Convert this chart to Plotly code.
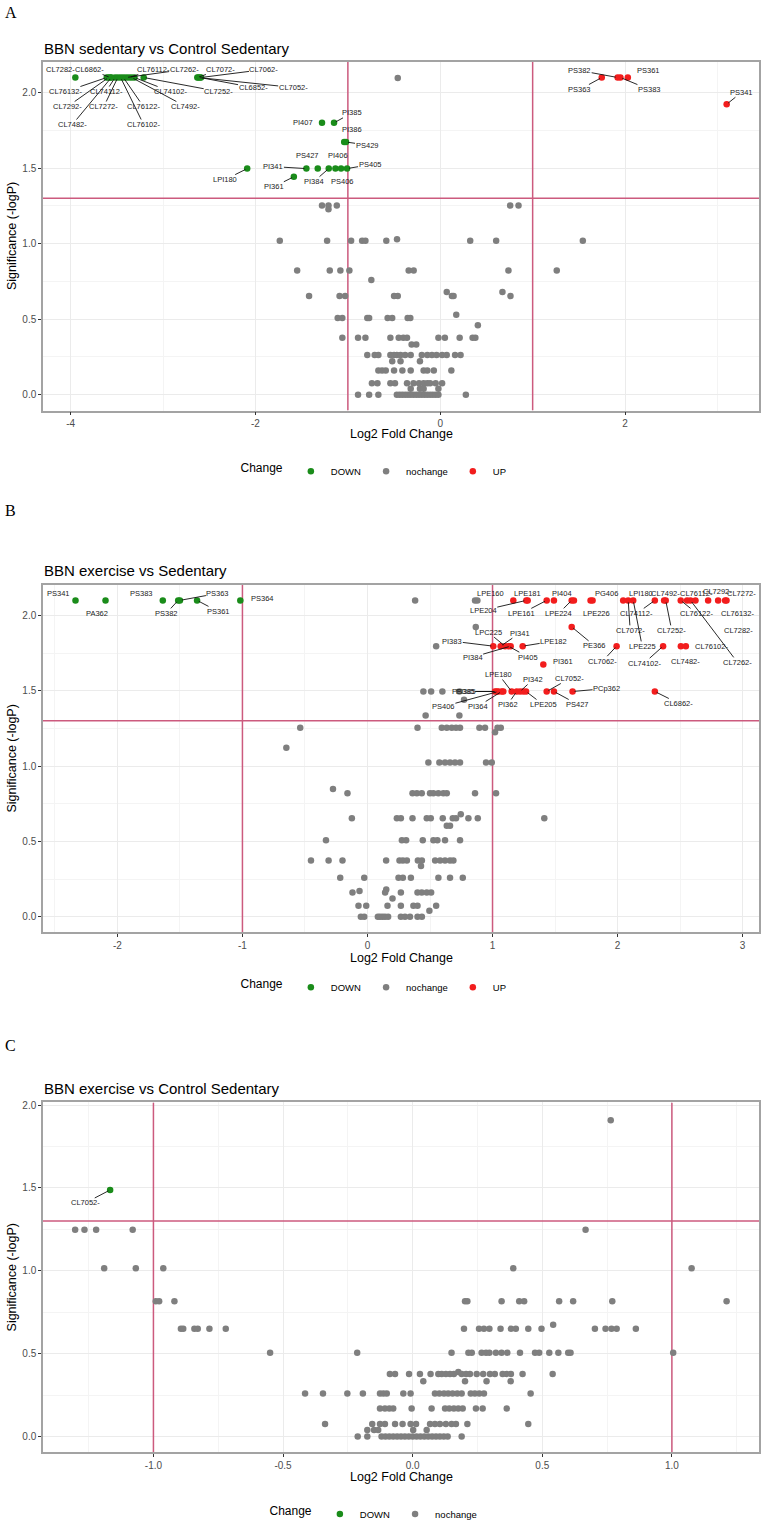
import plotly.graph_objects as go

# ---------------- DATA ----------------
FC_CUT = 1.0
P_CUT = 1.301  # -log10(0.05)

# Panel A: BBN sedentary vs Control Sedentary
A_levels = [2.096, 1.252, 1.228, 1.02, 1.03, 0.822, 0.76, 0.653, 0.68, 0.508, 0.53, 0.46,
            0.377, 0.333, 0.263, 0.221, 0.16, 0.076, 0.04, 0.0]
A_level_x = [
    [-0.46],
    [-1.28, -1.21, -1.12, 0.757, 0.847],
    [-1.21],
    [-1.737, -1.225, -0.965, -0.846, -0.81, -0.584, 0.324, 0.605, 1.543],
    [-0.468],
    [-1.549, -1.196, -1.081, -0.984, -0.342, -0.288, 0.738, 1.261],
    [-0.746],
    [-1.42, -1.09, -1.03, -0.50, -0.46, 0.126, 0.144, 0.76],
    [0.07, 0.673],
    [-1.11, -1.06, -0.79, -0.77, -0.57, -0.52, -0.353, -0.324],
    [0.173],
    [0.407],
    [-1.06, -0.89, -0.81, -0.54, -0.45, -0.40, -0.36, -0.02, 0.05, 0.21, 0.35, 0.38],
    [-0.31, -0.26],
    [-0.79, -0.71, -0.67, -0.54, -0.50, -0.47, -0.43, -0.38, -0.32, -0.20, -0.14, -0.09,
     -0.04, 0.02, 0.07, 0.16, 0.22],
    [-0.52, -0.43, -0.22],
    [-0.67, -0.63, -0.59, -0.50, -0.41, -0.32, -0.18, -0.14, -0.07, 0.12],
    [-0.74, -0.68, -0.54, -0.49, -0.36, -0.29, -0.23, -0.18, -0.14, -0.11, -0.05, 0.02],
    [-0.32, -0.22, -0.18, -0.02],
    [-0.89, -0.77, -0.67, -0.47, -0.44, -0.41, -0.38, -0.35, -0.32, -0.29, -0.26, -0.23,
     -0.20, -0.17, -0.14, -0.11, -0.08, -0.05, -0.02, 0.277],
]
A_sig_name = ["CL7282-", "CL76132-", "CL7292-", "CL6862-", "CL7482-", "CL74112-", "CL7272-",
              "CL76102-", "CL76122-", "CL7262-", "CL76112-", "CL7492-", "CL74102-", "CL7252-",
              "CL7072-", "CL7052-", "CL6852-", "CL7062-",
              "PI407", "PI385", "PI386", "PS429", "LPI180", "PI361", "PI341", "PS427", "PI384",
              "PS406", "PI406", "PS405",
              "PS363", "PS382", "PS383", "PS361", "PS341"]
A_sig_x = [-3.95, -3.61, -3.59, -3.57, -3.56, -3.52, -3.49, -3.46, -3.43, -3.40, -3.37, -3.34,
           -3.31, -3.21, -2.63, -2.62, -2.60, -2.59,
           -1.28, -1.15, -1.04, -1.02, -2.09, -1.585, -1.449, -1.326, -1.207, -1.135, -1.074, -1.009,
           1.748, 1.92, 1.95, 2.03, 3.10]
A_sig_y = [2.1] * 18 + [1.80, 1.80, 1.673, 1.673, 1.497, 1.443, 1.497, 1.497, 1.497, 1.497,
                        1.497, 1.497, 2.1, 2.1, 2.1, 2.1, 1.923]

# Panel B: BBN exercise vs Sedentary
B_levels = [2.1, 1.924, 1.796, 1.495, 1.44, 1.335, 1.254, 1.225, 1.122, 1.023, 0.847, 0.819,
            0.68, 0.654, 0.603, 0.507, 0.373, 0.336, 0.259, 0.18, 0.17, 0.16, 0.12, 0.072, 0.04, 0.0]
B_level_x = [
    [0.381, 0.86, 0.879],
    [0.866],
    [0.549],
    [0.447, 0.509, 0.599, 0.735],
    [0.772],
    [0.465, 0.735],
    [-0.538, 0.40, 0.594, 0.634, 0.674, 0.708, 0.74, 0.895, 0.94, 1.04, 1.066],
    [1.02],
    [-0.649],
    [0.487, 0.575, 0.62, 0.66, 0.70, 0.74, 0.948, 0.994],
    [-0.276],
    [-0.16, 0.36, 0.395, 0.434, 0.50, 0.527, 0.567, 0.607, 0.634, 0.86, 1.028],
    [0.746],
    [-0.125, 0.235, 0.267, 0.36, 0.474, 0.506, 0.602, 0.682, 0.708, 0.807, 0.882, 1.414],
    [0.634, 0.66],
    [-0.332, 0.275, 0.309, 0.442, 0.527, 0.559, 0.62, 0.74],
    [-0.452, -0.311, -0.2, 0.149, 0.256, 0.283, 0.315, 0.403, 0.435, 0.541, 0.581, 0.62, 0.66, 0.687],
    [0.428],
    [-0.218, -0.026, 0.248, 0.283, 0.347, 0.567, 0.66, 0.762],
    [0.15],
    [-0.064],
    [-0.12, 0.141, 0.267, 0.40, 0.434, 0.474, 0.509],
    [0.2],
    [-0.072, -0.01, 0.16, 0.267, 0.367, 0.40, 0.549],
    [0.495],
    [-0.053, -0.026, 0.083, 0.10, 0.12, 0.14, 0.165, 0.267, 0.30, 0.34, 0.40, 0.435],
]
B_sig_name = ["PS341", "PA362", "PS383", "PS382", "PS363", "PS361", "PS364",
              "LPE160", "LPE204", "LPE181", "LPE161", "PI404", "LPE224", "", "PG406", "LPE226",
              "LPI180", "CL7072-", "LPE225", "CL74112-", "CL7492-", "CL7252-", "CL76122-",
              "CL76112-", "CL7262-", "", "CL7292-", "CL7282-", "CL76132-", "CL7272-",
              "PE366",
              "PI383", "PI341", "LPC225", "PI405", "PI384", "LPE182", "CL7062-", "CL74102-",
              "CL7482-", "CL76102-",
              "PI361",
              "PS385", "PI385", "PS406", "PI364", "", "LPE180", "PI362", "PI342", "", "LPE205",
              "CL7052-", "PS427", "PCp362", "CL6862-"]
B_sig_x = [-2.335, -2.095, -1.637, -1.514, -1.50, -1.363, -1.017,
           1.166, 1.27, 1.281, 1.433, 1.491, 1.633, 1.651, 1.784, 1.80,
           2.045, 2.085, 2.125, 2.298, 2.372, 2.385, 2.505,
           2.556, 2.583, 2.623, 2.724, 2.804, 2.86, 2.871,
           1.633,
           1.006, 1.065, 1.10, 1.127, 1.145, 1.241, 1.992, 2.364, 2.506, 2.546,
           1.406,
           1.02, 1.033, 1.047, 1.073, 1.086, 1.153, 1.193, 1.22, 1.246, 1.268,
           1.433, 1.491, 1.64, 2.298]
B_sig_y = [2.1] * 7 + [2.1] * 23 + [1.924] + [1.796] * 10 + [1.675] + [1.495] * 14

# Panel C: BBN exercise vs Control Sedentary
C_levels = [1.909, 1.248, 1.015, 0.817, 0.675, 0.65, 0.506, 0.39, 0.378, 0.334, 0.26, 0.169,
            0.075, 0.039, 0.0]
C_level_x = [
    [0.764],
    [-1.302, -1.266, -1.221, -1.08, 0.667],
    [-1.19, -1.068, -0.962, 0.388, 1.076],
    [-0.991, -0.978, -0.919, 0.202, 0.211, 0.343, 0.411, 0.43, 0.565, 0.619, 0.77, 1.211],
    [0.542],
    [-0.894, -0.885, -0.842, -0.829, -0.784, -0.721, 0.198, 0.256, 0.275, 0.296, 0.339, 0.379,
     0.398, 0.446, 0.497, 0.703, 0.744, 0.767, 0.787, 0.861],
    [-0.55, -0.214, 0.15, 0.215, 0.228, 0.266, 0.283, 0.296, 0.321, 0.343, 0.365, 0.414, 0.472,
     0.488, 0.527, 0.562, 0.6, 0.609, 1.005],
    [0.176],
    [-0.088, -0.068, -0.014, 0.028, 0.069, 0.099, 0.112, 0.128, 0.144, 0.159, 0.189, 0.206, 0.221,
     0.247, 0.272, 0.298, 0.317, 0.347, 0.363, 0.379, 0.424, 0.54],
    [0.041, 0.202, 0.285, 0.378],
    [-0.415, -0.346, -0.252, -0.192, -0.126, -0.113, -0.1, -0.036, -0.008, 0.086, 0.103, 0.121,
     0.137, 0.154, 0.172, 0.189, 0.224, 0.24, 0.257, 0.275, 0.455],
    [-0.126, -0.107, -0.09, -0.075, -0.004, 0.073, 0.125, 0.141, 0.159, 0.176, 0.193, 0.244, 0.27, 0.363],
    [-0.338, -0.156, -0.126, -0.107, -0.068, -0.039, -0.008, 0.013, 0.067, 0.086, 0.105, 0.128,
     0.15, 0.167, 0.211, 0.446],
    [-0.175, -0.149, -0.133, 0.002, 0.054],
    [-0.212, -0.175, -0.12, -0.105, -0.09, -0.075, -0.06, -0.045, -0.03, -0.015, 0.0, 0.015, 0.03,
     0.045, 0.06, 0.075, 0.09, 0.105, 0.12, 0.135, 0.189],
]
C_sig_name = ["CL7052-"]
C_sig_x = [-1.167]
C_sig_y = [1.488]

# Tick labels
A_xtick_vals = [-4, -2, 0, 2]
A_xtick_text = ["-4", "-2", "0", "2"]
B_xtick_vals = [-2, -1, 0, 1, 2, 3]
B_xtick_text = ["-2", "-1", "0", "1", "2", "3"]
C_xtick_vals = [-1.0, -0.5, 0.0, 0.5, 1.0]
C_xtick_text = ["-1.0", "-0.5", "0.0", "0.5", "1.0"]
Y_tick_vals = [0.0, 0.5, 1.0, 1.5, 2.0]
Y_tick_text = ["0.0", "0.5", "1.0", "1.5", "2.0"]

# ---------------- LABEL LAYOUT (pixel offsets of repel labels) ----------------
A_lab_dx = [-15, -41, -41, -21, -39, -9, -14, 23, 20, 58, 25, 54, 36, 75, 23, 95, 53, 63,
            -19, 18, 8, 21, -22, -20, -33, -10, -15, 7, -3, 23,
            -22, -38, 29, 21, 15]
A_lab_dy = [-8, 14, 29, -8, 47, 14, 29, 47, 29, -8, -8, 29, 14, 14, -8, 10, 10, -8,
            0, -10, -13, 3, 11, 10, -2, -13, 13, 13, -13, -4,
            12, -7, 12, -7, -12]
A_lab_seg = [0, 1, 1, 1, 1, 1, 1, 1, 1, 1, 1, 1, 1, 1, 1, 1, 1, 1,
             0, 1, 0, 1, 1, 1, 1, 0, 1, 0, 0, 1,
             1, 1, 1, 0, 1]
B_lab_dx = [-17, -9, -21, -12, 38, 21, 22,
            -23, -43, 0, -25, 8, -13, 0, 16, 4,
            18, 2, 9, -18, 1, 6, 16,
            9, 47, 0, 9, 20, 12, 15,
            23,
            -41, 19, -17, 20, -38, 31, -14, -19, 5, 26,
            20,
            -32, -31, -55, -24, 0, -13, -9, 13, 0, 17, 23, 24, 34, 24]
B_lab_dy = [-7, 13, -7, 13, -7, 11, -2,
            -7, 10, -7, 13, -7, 13, 0, -7, 13,
            -7, 30, 46, 13, -7, 30, 13,
            -7, 62, 0, -9, 30, 13, -7,
            19,
            -5, -13, -14, 11, 11, -5, 15, 17, 15, 0,
            -3,
            0, 0, 15, 15, 0, -17, 13, -12, 0, 13, -13, 13, -3, 12]
B_lab_seg = [0, 0, 0, 1, 1, 1, 0,
             0, 1, 0, 1, 0, 1, 0, 0, 0,
             0, 1, 1, 1, 0, 1, 1,
             0, 1, 0, 0, 1, 0, 0,
             1,
             1, 1, 1, 1, 1, 1, 1, 1, 1, 0,
             0,
             1, 1, 1, 1, 0, 1, 1, 1, 0, 1, 1, 1, 1, 1]
C_lab_dx = [-25]
C_lab_dy = [13]
C_lab_seg = [1]

# ---------------- STYLE ----------------
W, H = 761, 1529
FONT = "Liberation Sans, Arial, Helvetica, sans-serif"
COL = {"DOWN": "#1A8C1A", "nochange": "#7F7F7F", "UP": "#F21D1D"}
RANK = {"DOWN": 1, "nochange": 2, "UP": 3}
LINE_COL = "#CC5A7E"


def fy(p):
    return 1 - p / H


def classify(x, y):
    if y > P_CUT and x < -FC_CUT:
        return "DOWN"
    if y > P_CUT and x > FC_CUT:
        return "UP"
    return "nochange"


panels = [
    dict(sfx="", lg="legend", levels=A_levels, lx=A_level_x, sn=A_sig_name, sx=A_sig_x, sy=A_sig_y,
         dx=A_lab_dx, dy=A_lab_dy, seg=A_lab_seg, top=59, bot=410, xr=[-4.30, 3.45], yr=[-0.105, 2.205],
         xtv=A_xtick_vals, xtt=A_xtick_text, xminor=[-3, -1, 1, 3],
         title="BBN sedentary vs Control Sedentary", ty=46, letter="A", ly=10, xty=434, legy=471),
    dict(sfx="2", lg="legend2", levels=B_levels, lx=B_level_x, sn=B_sig_name, sx=B_sig_x, sy=B_sig_y,
         dx=B_lab_dx, dy=B_lab_dy, seg=B_lab_seg, top=585, bot=935, xr=[-2.595, 3.131], yr=[-0.105, 2.205],
         xtv=B_xtick_vals, xtt=B_xtick_text, xminor=[-2.5, -1.5, -0.5, 0.5, 1.5, 2.5],
         title="BBN exercise vs Sedentary", ty=571, letter="B", ly=511, xty=961, legy=990),
    dict(sfx="3", lg="legend3", levels=C_levels, lx=C_level_x, sn=C_sig_name, sx=C_sig_x, sy=C_sig_y,
         dx=C_lab_dx, dy=C_lab_dy, seg=C_lab_seg, top=1106, bot=1458, xr=[-1.426, 1.336], yr=[-0.096, 2.016],
         xtv=C_xtick_vals, xtt=C_xtick_text, xminor=[-1.25, -0.75, -0.25, 0.25, 0.75, 1.25],
         title="BBN exercise vs Control Sedentary", ty=1092, letter="C", ly=1049, xty=1483, legy=1520),
]

fig = go.Figure()
annotations = []
layout = {}

for p in panels:
    xa, ya = "x" + p["sfx"], "y" + p["sfx"]

    # threshold lines (drawn first: above the grid, beneath the points)
    for v in (-FC_CUT, FC_CUT):
        fig.add_trace(go.Scatter(x=[v, v], y=p["yr"], mode="lines", xaxis=xa, yaxis=ya,
                                 showlegend=False, hoverinfo="skip", cliponaxis=True,
                                 line=dict(color=LINE_COL, width=1.5)))
    fig.add_trace(go.Scatter(x=p["xr"], y=[P_CUT, P_CUT], mode="lines", xaxis=xa, yaxis=ya,
                             showlegend=False, hoverinfo="skip", cliponaxis=True,
                             line=dict(color=LINE_COL, width=1.5)))

    xs, ys = [], []
    for lv, row in zip(p["levels"], p["lx"]):
        xs += row
        ys += [lv] * len(row)
    xs += p["sx"]
    ys += p["sy"]
    groups = {"DOWN": ([], []), "nochange": ([], []), "UP": ([], [])}
    for x, y in zip(xs, ys):
        g = groups[classify(x, y)]
        g[0].append(x)
        g[1].append(y)
    for name in ["nochange", "DOWN", "UP"]:
        gx, gy = groups[name]
        if not gx:
            continue
        fig.add_trace(go.Scatter(
            x=gx, y=gy, mode="markers", name=name, xaxis=xa, yaxis=ya, legend=p["lg"],
            legendrank=RANK[name], hoverinfo="skip",
            marker=dict(color=COL[name], size=6.5, line=dict(width=0))))

    # repel labels
    for n, x, y, dx, dy, s in zip(p["sn"], p["sx"], p["sy"], p["dx"], p["dy"], p["seg"]):
        if not n:
            continue
        base = dict(x=x, y=y, xref=xa, yref=ya, text=n,
                    font=dict(family=FONT, size=7.5, color="#222222"))
        if s:
            base.update(showarrow=True, ax=dx, ay=dy, arrowhead=0, arrowwidth=0.9,
                        arrowcolor="#111111", standoff=2, borderpad=0)
        else:
            base.update(showarrow=False, xshift=dx, yshift=-dy)
        annotations.append(base)

    # axes
    xkey = "xaxis" + p["sfx"]
    ykey = "yaxis" + p["sfx"]
    common = dict(showgrid=True, gridcolor="#EBEBEB", gridwidth=1, zeroline=False,
                  showline=True, linecolor="#A3A3A3", linewidth=1.5, mirror=True,
                  ticks="outside", ticklen=3, tickwidth=1, tickcolor="#333333",
                  tickfont=dict(family=FONT, size=10, color="#4D4D4D"))
    layout[xkey] = dict(common, domain=[43 / W, 759 / W], range=p["xr"], anchor=ya,
                        tickmode="array", tickvals=p["xtv"], ticktext=p["xtt"],
                        minor=dict(tickvals=p["xminor"], showgrid=True, gridcolor="#F4F4F4",
                                   gridwidth=0.7, ticks=""))
    layout[ykey] = dict(common, domain=[fy(p["bot"]), fy(p["top"])], range=p["yr"], anchor=xa,
                        tickmode="array", tickvals=Y_tick_vals, ticktext=Y_tick_text,
                        minor=dict(tickvals=[0.25, 0.75, 1.25, 1.75], showgrid=True,
                                   gridcolor="#F4F4F4", gridwidth=0.7, ticks=""))

    # titles and panel letters
    annotations.append(dict(xref="paper", yref="paper", x=42 / W, y=fy(p["ty"]), xanchor="left",
                            yanchor="middle", showarrow=False, text=p["title"],
                            font=dict(family=FONT, size=15, color="#000000")))
    annotations.append(dict(xref="paper", yref="paper", x=3 / W, y=fy(p["ly"]), xanchor="left",
                            yanchor="middle", showarrow=False, text=p["letter"],
                            font=dict(family="Liberation Serif, Times New Roman, serif", size=16,
                                      color="#000000")))
    annotations.append(dict(xref="paper", yref="paper", x=401 / W, y=fy(p["xty"]), xanchor="center",
                            yanchor="middle", showarrow=False, text="Log2 Fold Change",
                            font=dict(family=FONT, size=12.5, color="#000000")))
    annotations.append(dict(xref="paper", yref="paper", x=12 / W, y=fy((p["top"] + p["bot"]) / 2),
                            xanchor="center", yanchor="middle", showarrow=False, textangle=-90,
                            text="Significance (-logP)",
                            font=dict(family=FONT, size=12.5, color="#000000")))

    layout[p["lg"]] = dict(orientation="h", x=375 / W, xanchor="center", y=fy(p["legy"]),
                           yanchor="middle", bgcolor="rgba(0,0,0,0)", itemwidth=30,
                           title=dict(text="Change", side="left",
                                      font=dict(family=FONT, size=12, color="#000000")),
                           font=dict(family=FONT, size=9.5, color="#000000"))

fig.update_layout(
    width=W, height=H, margin=dict(l=0, r=0, t=0, b=0),
    plot_bgcolor="white", paper_bgcolor="white",
    font=dict(family=FONT), showlegend=True,
    annotations=annotations, **layout)

fig.write_html("out.html", config={"displayModeBar": False},
               post_script="document.body.style.margin='0px';document.body.style.padding='0px';")
